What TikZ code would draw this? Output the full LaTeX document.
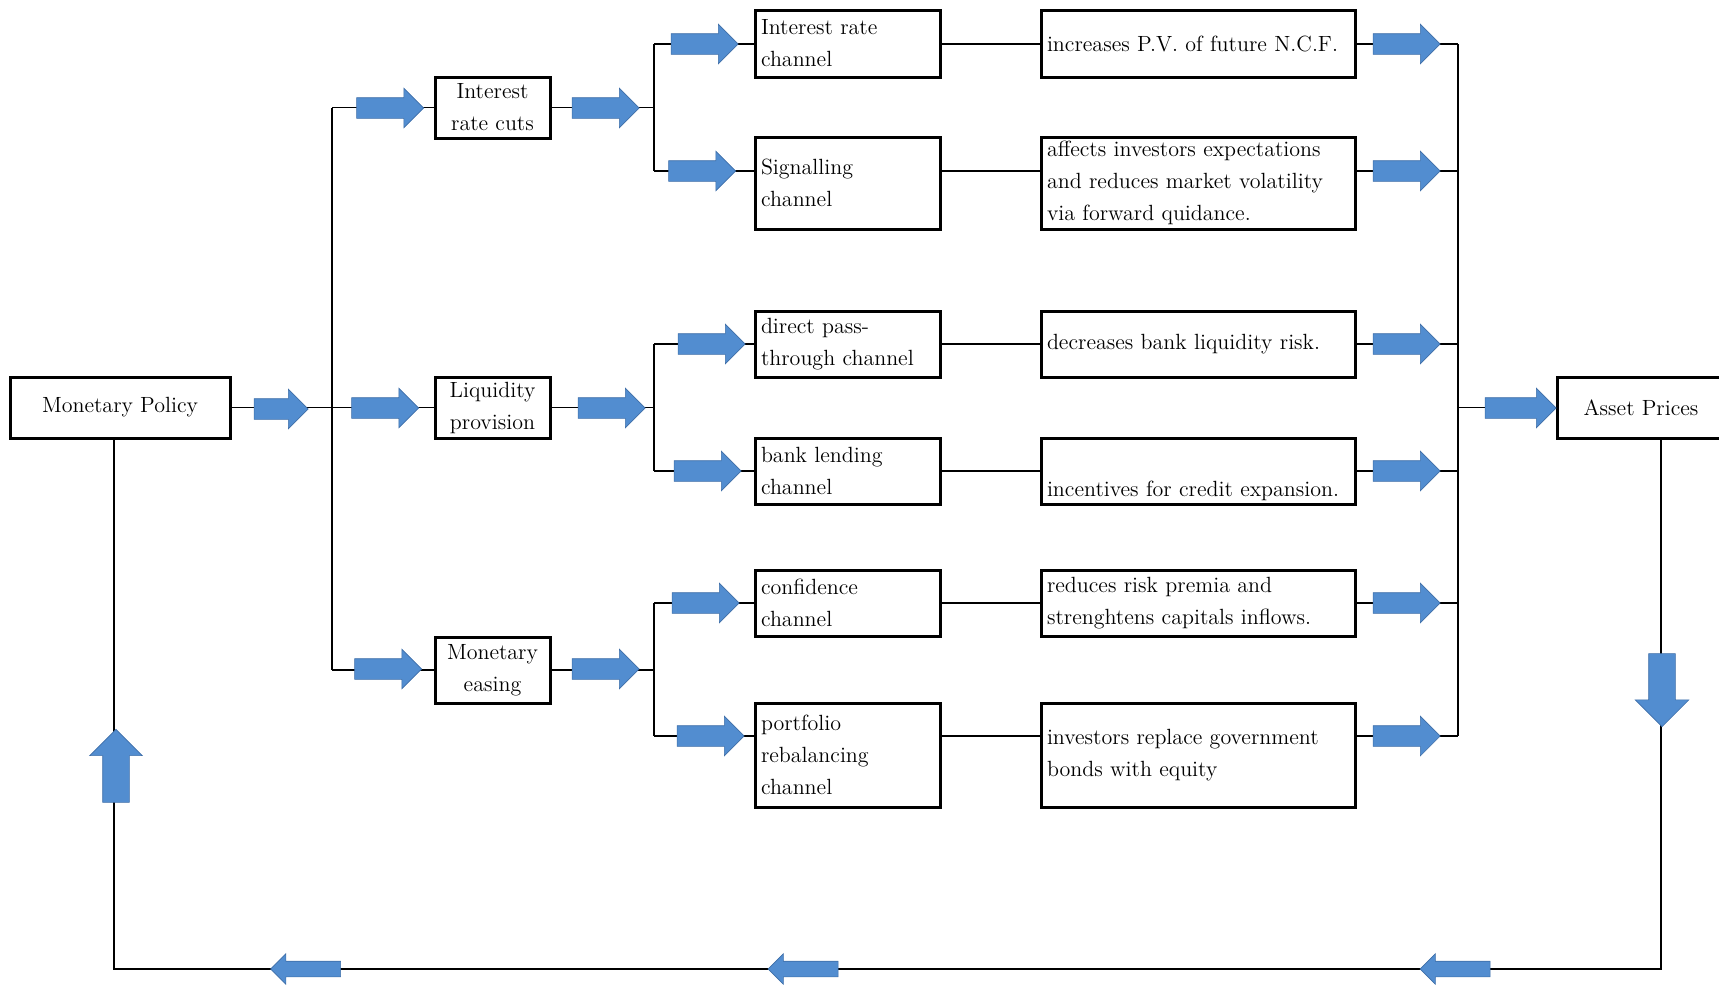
\documentclass[tikz,border=0pt]{standalone}
\usetikzlibrary{shapes.arrows}

\definecolor{arrowblue}{RGB}{82,141,208}
\definecolor{arrowedge}{RGB}{62,110,168}

\tikzset{
  box/.style={draw, line width=1.5pt, inner xsep=3pt, inner ysep=1pt, align=center,
    font=\fontsize{11}{16}\selectfont},
  chanbox/.style={box, align=left, text width=86.5pt},
  effbox/.style={box, align=left, text width=151pt},
  link/.style={line width=0.7pt},
  trunk/.style={line width=1.1pt},
  blockarrow/.style={single arrow, fill=arrowblue, draw=arrowedge, line width=0.3pt,
    inner sep=5pt, single arrow head extend=4.75pt, minimum height=33.5pt},
}

\begin{document}
\begin{tikzpicture}[x=0.5pt, y=-0.5pt]
    \useasboundingbox (0,0) rectangle (1719,985);

    % Start and end
    \node[box, minimum width=110pt, minimum height=30.5pt] (mp) at (120,407.5) {Monetary Policy};
    \node[box, minimum width=84pt, minimum height=30.5pt] (ap) at (1641,407.5) {Asset Prices};

    % Policy tools
    \node[box, minimum width=57.5pt, minimum height=30.5pt] (irc) at (492.5,107.5) {Interest\\rate cuts};
    \node[box, minimum width=57.5pt, minimum height=30.5pt] (liq) at (492.5,407.5) {Liquidity\\provision};
    \node[box, minimum width=57.5pt, minimum height=33pt] (ease) at (492.5,670) {Monetary\\easing};

    % Channels
    \node[chanbox, minimum height=33.5pt] (ch1) at (847.5,43.5) {Interest rate\\channel};
    \node[chanbox, minimum height=46pt] (ch2) at (847.5,183) {Signalling\\channel};
    \node[chanbox, minimum height=33pt] (ch3) at (847.5,344) {direct pass-\\through channel};
    \node[chanbox, minimum height=33pt] (ch4) at (847.5,471) {bank lending\\channel};
    \node[chanbox, minimum height=33pt] (ch5) at (847.5,603) {confidence\\channel};
    \node[chanbox, minimum height=52pt] (ch6) at (847.5,755) {portfolio\\rebalancing\\channel};

    % Effects
    \node[effbox, minimum height=33.5pt] (ef1) at (1198,43.5) {increases P.V. of future N.C.F.};
    \node[effbox, minimum height=46pt] (ef2) at (1198,183) {affects investors expectations\\and reduces market volatility\\via forward quidance.};
    \node[effbox, minimum height=33pt] (ef3) at (1198,344) {decreases bank liquidity risk.};
    \node[effbox, minimum height=33pt] (ef4) at (1198,471) {\strut\\incentives for credit expansion.};
    \node[effbox, minimum height=33pt] (ef5) at (1198,603) {reduces risk premia and\\strenghtens capitals inflows.};
    \node[effbox, minimum height=52pt] (ef6) at (1198,755) {investors replace government\\bonds with equity};

    % Junction points
    \coordinate (mt1) at (332,107.5);
    \coordinate (mt2) at (332,407.5);
    \coordinate (mt3) at (332,670);
    \coordinate (s1) at (654,107.5);
    \coordinate (s2) at (654,407.5);
    \coordinate (s3) at (654,670);
    \foreach \i/\y in {1/44,2/171,3/344,4/471,5/603,6/736} {
        \coordinate (r\i) at (654,\y);
        \coordinate (q\i) at (1458,\y);
    }
    \coordinate (q0) at (1458,407.5);
    \coordinate (fbr) at (1661,969);
    \coordinate (fbl) at (114,969);

    % Lines
    \draw[link] (mp.east) -- (mt2);
    \draw[trunk] (mt1) -- (mt3);
    \foreach \n/\t/\s in {irc/mt1/s1, liq/mt2/s2, ease/mt3/s3} {
        \draw[link] (\t) -- (\n.west);
        \draw[link] (\n.east) -- (\s);
    }
    \draw[link] (r1) -- (r2);
    \draw[link] (r3) -- (r4);
    \draw[link] (r5) -- (r6);
    \foreach \i in {1,...,6} {
        \draw[link] (r\i) -- (ch\i.west |- r\i);
        \draw[link] (ch\i.east |- r\i) -- (ef\i.west |- r\i);
        \draw[link] (ef\i.east |- r\i) -- (q\i);
    }
    \draw[trunk] (q1) -- (q6);
    \draw[link] (q0) -- (ap.west);

    % Feedback loop
    \draw[link] (ap.south -| fbr) -- (fbr) -- (fbl) -- (mp.south -| fbl);

    % Block arrows
    \node[blockarrow, minimum height=27pt] (a0) at (276,409) {};
    \node[blockarrow] (t1) at (385,108) {};
    \node[blockarrow] (t2) at (380,408) {};
    \node[blockarrow] (t3) at (383,669) {};
    \node[blockarrow] (b1) at (600.5,108) {};
    \node[blockarrow] (b2) at (606.5,408) {};
    \node[blockarrow] (b3) at (600.5,669) {};
    \foreach \i/\x/\y in {1/699.5/44, 2/697/171, 3/706.5/344, 4/702.5/471, 5/700.5/603, 6/705.5/736} {
        \node[blockarrow] (c\i) at (\x,\y) {};
        \node[blockarrow] (e\i) at (1401.5,\y) {};
    }
    \node[blockarrow, minimum height=35.5pt] (a7) at (1515.5,408) {};
    \node[blockarrow, rotate=-90, minimum height=36.5pt, inner sep=6.5pt,
        single arrow head extend=6.75pt] (down) at (1662,683.5) {};
    \node[blockarrow, rotate=90, minimum height=36.5pt, inner sep=6.5pt,
        single arrow head extend=6.5pt] (up) at (116,772.5) {};
    \foreach \x [count=\k] in {1459,807,309.5} {
        \node[blockarrow, rotate=180, minimum height=35pt, inner sep=3.75pt,
            single arrow head extend=3.75pt] (back\k) at (\x,969) {};
    }
\end{tikzpicture}
\end{document}
